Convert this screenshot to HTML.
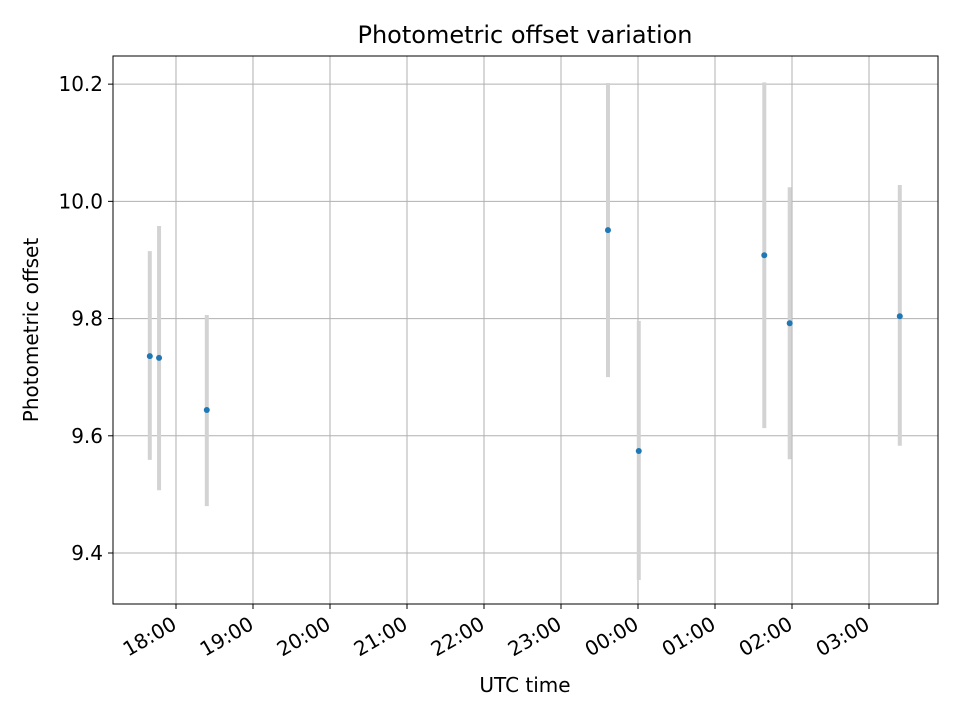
<!DOCTYPE html>
<html><head><meta charset="utf-8"><style>
body{margin:0;background:#fff;font-family:"Liberation Sans","DejaVu Sans",sans-serif}
svg text{font-family:"DejaVu Sans","Liberation Sans",sans-serif}
</style></head><body>
<svg id="chart" width="960" height="720" xmlns="http://www.w3.org/2000/svg"></svg>
<script>
const times=[17.66,17.78,18.40,23.61,24.01,25.64,25.97,27.40];
const offsets=[9.736,9.733,9.644,9.951,9.574,9.908,9.792,9.804];
const errLow=[9.559,9.507,9.480,9.700,9.354,9.613,9.560,9.583];
const errHigh=[9.915,9.958,9.806,10.202,9.796,10.203,10.024,10.028];
const xTicks=[18,19,20,21,22,23,24,25,26,27];
const xTickLabels=["18:00","19:00","20:00","21:00","22:00","23:00","00:00","01:00","02:00","03:00"];
const yTicks=[9.4,9.6,9.8,10.0,10.2];
const yTickLabels=["9.4","9.6","9.8","10.0","10.2"];

const L=113,R=938,T=56,B=604;
const xMin=17.182,xMax=27.896,yMin=9.313,yMax=10.248;
const sx=v=>L+(v-xMin)/(xMax-xMin)*(R-L);
const sy=v=>B-(v-yMin)/(yMax-yMin)*(B-T);
const svg=document.getElementById('chart');
const NS='http://www.w3.org/2000/svg';
function mk(tag,attrs,name,parent){const e=document.createElementNS(NS,tag);for(const k in attrs)e.setAttribute(k,attrs[k]);


(parent||svg).appendChild(e);return e;}
const grid=mk('g',{},'grid');
xTicks.forEach(t=>mk('line',{x1:sx(t),x2:sx(t),y1:T,y2:B,stroke:'#b0b0b0','stroke-width':1},'x-gridline',grid));
yTicks.forEach(t=>mk('line',{x1:L,x2:R,y1:sy(t),y2:sy(t),stroke:'#b0b0b0','stroke-width':1},'y-gridline',grid));
const eb=mk('g',{},'error-bars');
times.forEach((t,i)=>mk('line',{x1:sx(t),x2:sx(t),y1:sy(errLow[i]),y2:sy(errHigh[i]),stroke:'#d3d3d3','stroke-width':4},'error-bar',eb));
const pts=mk('g',{},'data-points');
times.forEach((t,i)=>mk('circle',{cx:sx(t),cy:sy(offsets[i]),r:3,fill:'#1f77b4'},'data-point',pts));
mk('rect',{x:L,y:T,width:R-L,height:B-T,fill:'none',stroke:'#000','stroke-width':1},'plot-frame');
const xa=mk('g',{},'x-axis');
xTicks.forEach((t,i)=>{const x=sx(t);
mk('line',{x1:x,x2:x,y1:B,y2:B+5,stroke:'#000'},'x-tick',xa);
const ax=x+2,ay=B+24;
const tx=mk('text',{x:ax,y:ay,'font-size':20,'text-anchor':'end',transform:`rotate(-30 ${ax} ${ay})`},'x-tick-label',xa);tx.textContent=xTickLabels[i];});
const ya=mk('g',{},'y-axis');
yTicks.forEach((t,i)=>{const y=sy(t);
mk('line',{x1:L-5,x2:L,y1:y,y2:y,stroke:'#000'},'y-tick',ya);
const tx=mk('text',{x:L-10,y:y+7,'font-size':20,'text-anchor':'end'},'y-tick-label',ya);tx.textContent=yTickLabels[i];});
let e=mk('text',{x:525,y:692,'font-size':20,'text-anchor':'middle'},'x-axis-title');e.textContent='UTC time';
e=mk('text',{x:38,y:330,'font-size':20,'text-anchor':'middle',transform:'rotate(-90 38 330)'},'y-axis-title');e.textContent='Photometric offset';
e=mk('text',{x:525,y:43,'font-size':24,'text-anchor':'middle'},'chart-title');e.textContent='Photometric offset variation';
</script>
</body></html>
